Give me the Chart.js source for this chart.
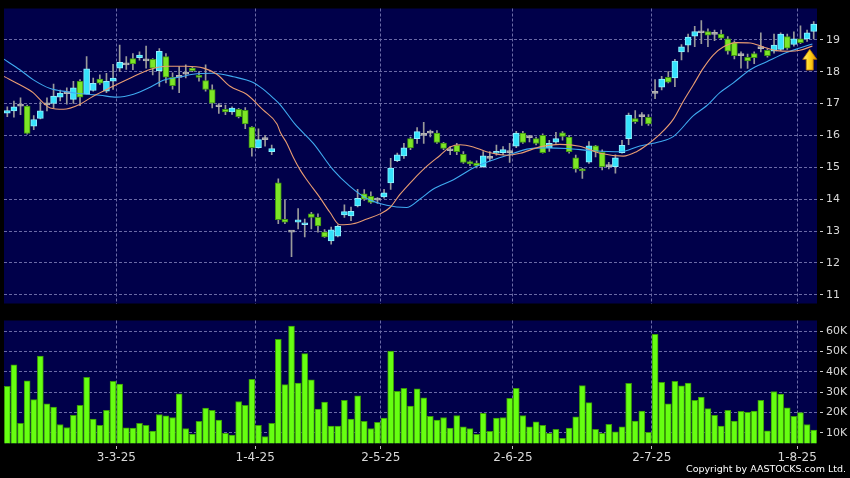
<!DOCTYPE html>
<html>
<head>
<meta charset="utf-8">
<title>Daily chart</title>
<script src="https://cdn.jsdelivr.net/npm/chart.js@4.4.1/dist/chart.umd.min.js"></script>
<style>
  body { margin: 0; background: #000; width: 850px; height: 478px; overflow: hidden; position: relative; font-family: 'DejaVu Sans', sans-serif; }
  canvas { position: absolute; left: 0; }
  #price { top: 0; }
  #volume { top: 312px; }
  #copy { position: absolute; right: 4px; top: 463px; color: #fff; font-size: 9.5px; line-height: 12px; white-space: nowrap; }
</style>
</head>
<body>
<canvas id="price" width="850" height="312"></canvas>
<canvas id="volume" width="850" height="166"></canvas>
<div id="copy">Copyright by AASTOCKS.com Ltd.</div>
<script>
// trading days, d-m-yy
const dates = [
  '6-2-25','7-2-25','10-2-25','11-2-25','12-2-25','13-2-25','14-2-25','17-2-25','18-2-25','19-2-25',
  '20-2-25','21-2-25','24-2-25','25-2-25','26-2-25','27-2-25','28-2-25',
  '3-3-25','4-3-25','5-3-25','6-3-25','7-3-25','10-3-25','11-3-25','12-3-25','13-3-25','14-3-25',
  '17-3-25','18-3-25','19-3-25','20-3-25','21-3-25','24-3-25','25-3-25','26-3-25','27-3-25','28-3-25','31-3-25',
  '1-4-25','2-4-25','3-4-25','7-4-25','8-4-25','9-4-25','10-4-25','11-4-25','14-4-25','15-4-25',
  '16-4-25','17-4-25','22-4-25','23-4-25','24-4-25','25-4-25','28-4-25','29-4-25','30-4-25',
  '2-5-25','6-5-25','7-5-25','8-5-25','9-5-25','12-5-25','13-5-25','14-5-25','15-5-25','16-5-25',
  '19-5-25','20-5-25','21-5-25','22-5-25','23-5-25','26-5-25','27-5-25','28-5-25','29-5-25','30-5-25',
  '2-6-25','3-6-25','4-6-25','5-6-25','6-6-25','9-6-25','10-6-25','11-6-25','12-6-25','13-6-25',
  '16-6-25','17-6-25','18-6-25','19-6-25','20-6-25','23-6-25','24-6-25','25-6-25','26-6-25','27-6-25','30-6-25',
  '2-7-25','3-7-25','4-7-25','7-7-25','8-7-25','9-7-25','10-7-25','11-7-25','14-7-25','15-7-25',
  '16-7-25','17-7-25','18-7-25','21-7-25','22-7-25','23-7-25','24-7-25','25-7-25','28-7-25','29-7-25',
  '30-7-25','31-7-25','1-8-25','4-8-25','5-8-25'
];

const open = [
  16.70,16.77,16.92,16.92,16.29,16.53,16.96,17.00,17.20,17.31,
  17.13,17.70,17.29,17.41,17.77,17.39,17.70,18.11,18.21,18.41,
  18.44,18.34,18.39,18.03,18.47,17.82,17.82,17.92,18.11,17.88,
  17.72,17.44,16.90,16.82,16.74,16.82,16.79,16.26,15.62,15.87,
  15.49,14.51,13.37,12.97,13.28,13.20,13.54,13.43,12.97,12.69,
  12.84,13.51,13.48,13.79,14.17,14.09,13.97,14.07,14.51,15.21,
  15.36,15.90,15.90,16.00,16.07,16.07,15.76,15.52,15.69,15.41,
  15.18,15.13,15.02,15.28,15.44,15.46,15.46,15.66,16.07,15.93,
  15.90,16.00,15.61,15.79,16.08,15.95,15.30,14.95,15.16,15.67,
  15.47,15.02,15.02,15.46,15.90,16.53,16.59,16.57,17.32,17.51,
  17.82,17.80,18.62,18.83,19.11,19.22,19.26,19.17,19.18,19.03,
  18.91,18.50,18.45,18.57,18.72,18.67,18.64,18.70,19.10,18.85,
  19.03,19.03,19.26
];
const high = [
  16.90,17.08,17.18,16.95,16.62,17.05,17.18,17.61,17.42,17.49,
  17.70,17.75,18.47,17.80,17.90,17.95,18.23,18.83,18.47,18.57,
  18.62,18.80,18.41,18.72,18.57,17.96,18.16,18.21,18.14,18.00,
  18.21,17.59,17.00,16.95,16.90,16.85,16.87,16.28,16.21,16.00,
  15.70,14.64,13.97,12.98,13.71,13.38,13.59,13.54,13.05,13.13,
  13.20,13.82,13.75,14.31,14.30,14.23,14.05,14.31,15.28,15.45,
  15.75,15.95,16.25,16.41,16.17,16.15,15.78,15.65,15.75,15.49,
  15.20,15.20,15.49,15.49,15.70,15.65,15.75,16.13,16.13,16.00,
  15.95,16.05,15.85,16.10,16.12,16.00,15.38,14.97,15.81,15.69,
  15.55,15.16,15.39,15.85,16.70,16.78,16.72,16.65,17.75,17.85,
  18.00,18.39,18.85,19.18,19.42,19.60,19.34,19.30,19.30,19.10,
  18.97,18.62,18.55,18.62,19.22,18.72,19.18,19.22,19.18,19.25,
  19.44,19.30,19.57
];
const low = [
  16.59,16.57,16.65,16.04,16.18,16.52,16.77,16.87,17.08,16.98,
  17.00,16.93,17.29,17.39,17.60,17.34,17.44,18.00,18.07,18.06,
  18.36,18.11,17.90,17.54,17.65,17.45,17.34,17.80,18.00,17.70,
  17.39,16.86,16.69,16.65,16.66,16.55,16.21,15.35,15.60,15.66,
  15.40,13.23,13.23,12.20,13.07,12.82,13.07,12.97,12.80,12.59,
  12.82,13.43,13.33,13.76,13.96,13.87,13.87,14.03,14.31,15.18,
  15.28,15.55,15.75,15.75,15.95,15.75,15.55,15.40,15.40,15.12,
  15.05,14.98,15.00,15.20,15.38,15.40,15.15,15.62,15.75,15.80,
  15.70,15.44,15.50,15.75,15.85,15.44,14.85,14.65,15.12,15.33,
  14.92,14.95,14.82,15.44,15.71,16.38,16.31,16.31,17.15,17.43,
  17.65,17.53,18.37,18.62,18.78,18.88,18.78,18.97,19.00,18.55,
  18.40,18.11,18.10,18.25,18.62,18.45,18.58,18.66,18.70,18.80,
  18.88,18.95,19.03
];
const close = [
  16.78,16.90,16.92,16.06,16.50,16.77,16.96,17.23,17.33,17.31,
  17.49,17.20,18.09,17.63,17.64,17.70,17.80,18.29,18.21,18.24,
  18.52,18.34,18.11,18.64,17.83,17.56,17.82,17.92,18.03,17.82,
  17.44,17.01,16.90,16.74,16.86,16.59,16.36,15.62,15.87,15.87,
  15.59,13.36,13.28,12.97,13.35,13.26,13.43,13.16,12.82,13.04,
  13.15,13.61,13.62,14.03,14.00,13.90,13.97,14.20,14.98,15.39,
  15.61,15.61,16.12,16.00,16.07,15.78,15.59,15.52,15.49,15.15,
  15.11,15.05,15.36,15.28,15.48,15.56,15.46,16.07,15.78,15.93,
  15.75,15.46,15.75,15.90,15.97,15.49,14.95,14.89,15.67,15.49,
  15.02,15.02,15.30,15.69,16.64,16.43,16.59,16.36,17.32,17.77,
  17.67,18.33,18.78,19.08,19.26,19.22,19.14,19.17,19.05,18.64,
  18.50,18.50,18.34,18.44,18.72,18.50,18.83,19.18,18.74,19.03,
  18.91,19.22,19.49
];

const volume = [
  32900,43400,14600,35600,26300,47700,24300,22700,14100,12600,
  18600,23500,37300,16700,13700,21000,35300,34000,12400,12300,
  14600,13700,10800,19000,18300,17500,29200,12100,9400,15700,
  22200,21000,16200,9700,8900,25400,23500,36300,13700,8100,
  14600,55900,33700,62400,34500,48900,36000,21700,25100,13300,
  13300,25900,16700,28200,15700,12100,15100,17200,50200,30400,
  31900,23100,31600,27200,18100,16200,17500,12300,18500,12900,
  12100,9200,19600,10700,17200,17500,26900,31800,18500,12900,
  15400,13700,9700,11700,7300,12300,17800,33200,24800,11700,
  9700,14200,10500,12900,34300,15800,20700,10200,58400,34800,
  24300,35300,33100,34500,25900,27500,21900,18600,13300,21000,
  15800,20600,20100,20700,25900,11000,30300,29000,22300,18100,
  19900,14100,11300
];

// moving averages (position in trading days, price)
const maShortIdx = [-0.5,1.9,3.9,5.4,6.5,8.5,11.0,13.0,16.0,19.1,21.6,24.1,27.1,29.7,31.7,33.7,36.2,38.7,40.8,41.3,
  42.3,43.3,44.3,45.3,47.3,48.8,50.3,52.3,54.4,56.4,57.9,59.4,61.4,63.4,65.5,67.0,68.5,70.5,72.5,75.6,
  77.6,80.6,83.6,86.6,89.7,93.2,95.2,96.7,98.7,100.8,102.3,103.8,105.3,106.8,108.3,110.3,112.4,114.4,116.4,118.4,
  119.9,121.8];
const maShort = [17.85,17.59,17.34,17.03,16.86,16.82,16.98,17.23,17.54,17.85,18.07,18.17,18.17,18.11,17.92,17.54,17.29,16.80,16.36,16.10,
  15.75,15.30,14.92,14.61,14.05,13.59,13.20,13.23,13.38,13.54,13.74,14.15,14.61,15.02,15.38,15.64,15.71,15.64,15.49,15.38,
  15.44,15.64,15.72,15.66,15.44,15.35,15.49,15.69,16.03,16.52,17.08,17.59,18.11,18.52,18.77,18.91,18.90,18.77,18.66,18.64,
  18.67,18.80];
const maLongIdx = [-0.5,1.9,3.9,6.5,9.0,12.0,14.0,16.5,19.1,21.6,23.6,26.1,28.1,31.2,34.2,37.2,38.7,40.2,41.3,43.5,
  46.3,49.3,51.8,54.4,57.4,60.4,62.4,64.4,67.5,70.5,73.5,76.6,78.6,81.6,84.6,88.7,92.7,95.7,98.7,100.8,
  103.8,105.8,107.8,109.8,112.4,114.9,117.9,119.9,121.8];
const maLong = [18.39,18.06,17.75,17.47,17.37,17.29,17.26,17.20,17.29,17.51,17.73,17.83,17.92,17.95,17.84,17.66,17.45,17.18,16.96,16.36,
  15.75,14.92,14.41,14.02,13.81,13.74,14.00,14.31,14.61,14.98,15.23,15.44,15.57,15.61,15.59,15.52,15.49,15.67,15.80,15.97,
  16.62,16.93,17.34,17.64,18.06,18.31,18.60,18.74,18.87];

const tickDates = ['3-3-25','1-4-25','2-5-25','2-6-25','2-7-25','1-8-25'];
const priceTicks = [11,12,13,14,15,16,17,18,19];
const volumeTicks = [10000,20000,30000,40000,50000,60000];
const priceMin = 10.73, priceMax = 19.98;
const volumeMin = 4840, volumeMax = 65200;

// signal arrow under the last candles
const arrowIdx = 121.4, arrowTip = 18.70, arrowBase = 18.05;

const navy = '#00004a';
const gridColor = '#6a6aa6';
const textColor = '#d8d8d8';
const font = { family: 'DejaVu Sans', size: 11, lineHeight: 1 };

const candleColor = (i, up, down, flat) => close[i] > open[i] ? up : close[i] < open[i] ? down : flat;

const plotBg = {
  id: 'plotBg',
  beforeDraw(chart) {
    const { ctx, chartArea: a } = chart;
    ctx.save();
    ctx.fillStyle = navy;
    ctx.fillRect(a.left, a.top, a.right - a.left, a.bottom - a.top);
    ctx.restore();
  }
};

const arrow = {
  id: 'arrow',
  afterDatasetsDraw(chart) {
    const { ctx, scales } = chart;
    const x = scales.x.getPixelForValue(arrowIdx);
    const top = scales.y.getPixelForValue(arrowTip);
    const bot = scales.y.getPixelForValue(arrowBase);
    const head = top + 10;
    const g = ctx.createLinearGradient(x - 7, 0, x + 7, 0);
    g.addColorStop(0, '#fff47a');
    g.addColorStop(0.5, '#ffd21a');
    g.addColorStop(1, '#e09000');
    ctx.save();
    ctx.beginPath();
    ctx.moveTo(x, top);
    ctx.lineTo(x + 7, head);
    ctx.lineTo(x + 3.5, head);
    ctx.lineTo(x + 3.5, bot);
    ctx.lineTo(x - 3.5, bot);
    ctx.lineTo(x - 3.5, head);
    ctx.lineTo(x - 7, head);
    ctx.closePath();
    ctx.fillStyle = g;
    ctx.fill();
    ctx.strokeStyle = '#b87400';
    ctx.lineWidth = 0.8;
    ctx.stroke();
    ctx.restore();
  }
};

const xTicks = (s) => { s.ticks = tickDates.map(d => ({ value: dates.indexOf(d) - 0.5 })); };

const xScale = (showLabels) => ({
  type: 'linear',
  min: -0.5,
  max: dates.length - 0.5,
  offset: false,
  afterBuildTicks: xTicks,
  afterFit: (s) => { s.height = showLabels ? 34.7 : 0; },
  ticks: {
    display: showLabels,
    autoSkip: false,
    maxRotation: 0,
    padding: 1,
    color: textColor,
    font: { family: 'DejaVu Sans', size: 12, lineHeight: 1.2 },
    callback: (v, i) => tickDates[i]
  },
  grid: {
    offset: false,
    color: gridColor,
    drawTicks: showLabels,
    tickLength: 6,
    tickColor: '#bbbbbb',
    tickBorderDash: [0, 3, 3, 40]
  },
  border: { display: false, dash: [3, 2] }
});

const yScale = (min, max, list, fmt) => ({
  position: 'right',
  min, max,
  afterBuildTicks: (s) => { s.ticks = list.map(v => ({ value: v })); },
  afterFit: (s) => { s.width = 33; },
  ticks: { color: textColor, font, padding: 3, callback: fmt },
  grid: {
    color: gridColor,
    tickLength: 6,
    tickColor: '#cccccc',
    tickBorderDash: [0, 3, 3, 40]
  },
  border: { display: false, dash: [3, 2] }
});

const common = {
  responsive: false,
  animation: false,
  devicePixelRatio: 1,
  plugins: { legend: { display: false }, tooltip: { enabled: false } }
};

new Chart(document.getElementById('price'), {
  type: 'bar',
  data: {
    datasets: [
      {
        type: 'line', label: 'MA10', order: 0,
        data: maShortIdx.map((x, i) => ({ x, y: maShort[i] })),
        borderColor: '#e99c72', borderWidth: 1.1, pointRadius: 0,
        cubicInterpolationMode: 'monotone'
      },
      {
        type: 'line', label: 'MA20', order: 0,
        data: maLongIdx.map((x, i) => ({ x, y: maLong[i] })),
        borderColor: '#3faaf0', borderWidth: 1.1, pointRadius: 0,
        cubicInterpolationMode: 'monotone'
      },
      {
        label: 'body', order: 1, grouped: false,
        data: dates.map((d, i) => ({ x: i, y: [open[i], close[i]] })),
        backgroundColor: dates.map((d, i) => candleColor(i, '#35e2fb', '#7de626', '#b4b4b4')),
        borderColor: dates.map((d, i) => candleColor(i, '#8ff0ff', '#3f9412', '#b4b4b4')),
        borderWidth: 1, borderSkipped: false,
        barThickness: 6, minBarLength: 2
      },
      {
        label: 'wick', order: 2, grouped: false,
        data: dates.map((d, i) => ({ x: i, y: [low[i], high[i]] })),
        backgroundColor: '#9a9a9a',
        barThickness: 1
      }
    ]
  },
  options: {
    ...common,
    layout: { padding: { left: 4, top: 6, right: 0, bottom: 6 } },
    scales: {
      x: xScale(false),
      y: yScale(priceMin, priceMax, priceTicks, (v) => String(v))
    }
  },
  plugins: [plotBg, arrow]
});

new Chart(document.getElementById('volume'), {
  type: 'bar',
  data: {
    datasets: [{
      label: 'Volume',
      data: dates.map((d, i) => ({ x: i, y: volume[i] })),
      backgroundColor: '#66ff11',
      borderColor: '#3a9a08',
      borderWidth: 1, borderSkipped: false,
      barThickness: 6
    }]
  },
  options: {
    ...common,
    layout: { padding: { left: 4, top: 7.3, right: 0, bottom: 0 } },
    scales: {
      x: xScale(true),
      y: yScale(volumeMin, volumeMax, volumeTicks, (v) => (v / 1000) + 'K')
    }
  },
  plugins: [plotBg]
});
</script>
</body>
</html>
